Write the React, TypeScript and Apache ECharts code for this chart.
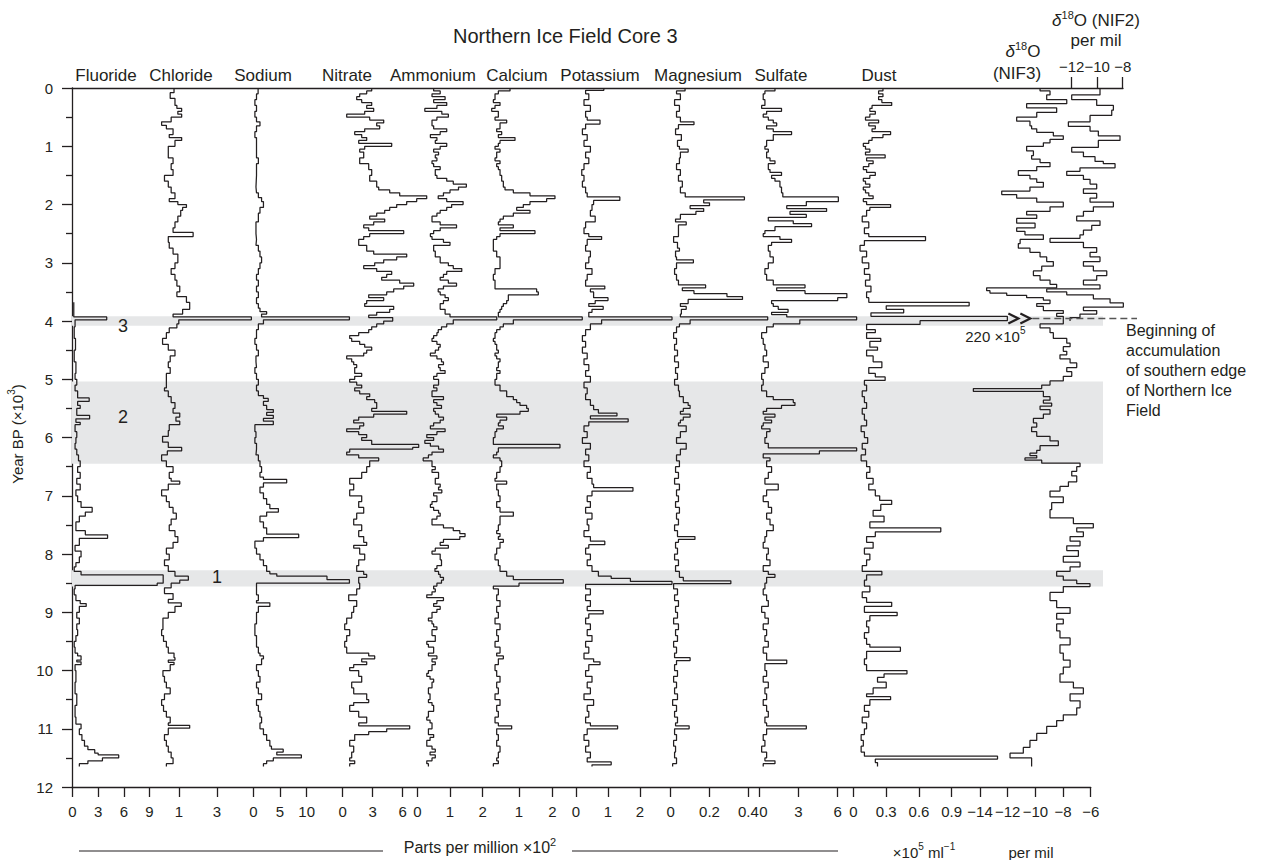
import { useEffect, useRef } from 'react';
import * as echarts from 'echarts';

// ---------------- DATA ----------------
// Each profile: [age (×10³ yr BP), value]; the value holds from that age to the next one.
type Pt = [number, number];

const fluoride: Pt[] = [[3.68,0.15],[3.93,4.0],[3.98,0.3],[4.1,0.2],[4.3,0.35],[4.5,0.2],[4.7,0.4],[4.9,0.3],[5.0,0.5],[5.1,0.3],[5.2,0.6],[5.32,1.95],[5.38,0.6],[5.45,0.9],[5.5,0.5],[5.62,2.0],[5.68,0.4],[5.74,0.9],[5.78,0.3],[5.9,0.5],[6.0,0.4],[6.1,0.3],[6.2,0.5],[6.3,0.7],[6.4,0.9],[6.5,0.6],[6.6,0.9],[6.7,0.5],[6.8,0.9],[6.9,0.4],[7.0,0.6],[7.1,1.0],[7.2,2.3],[7.28,1.5],[7.35,0.8],[7.45,0.4],[7.6,1.5],[7.67,4.1],[7.73,0.8],[7.85,0.3],[7.95,1.0],[8.05,0.8],[8.15,0.4],[8.22,0.2],[8.3,1.0],[8.36,10.6],[8.5,9.9],[8.54,0.3],[8.6,0.2],[8.7,0.4],[8.8,0.9],[8.85,1.6],[8.9,0.8],[9.0,0.5],[9.1,0.8],[9.2,0.5],[9.3,0.6],[9.4,0.4],[9.5,0.2],[9.6,0.3],[9.7,0.6],[9.75,1.0],[9.82,0.5],[9.85,1.0],[9.9,0.3],[10.0,0.4],[10.2,0.3],[10.4,0.5],[10.6,0.3],[10.8,0.4],[10.92,1.0],[11.0,0.8],[11.1,1.1],[11.2,1.4],[11.3,1.8],[11.36,2.6],[11.42,3.0],[11.45,5.4],[11.5,3.5],[11.55,1.8],[11.6,0.8],[11.65,0.8]];

const chloride: Pt[] = [[0,0.75],[0.08,0.55],[0.18,0.8],[0.3,0.9],[0.35,1.15],[0.4,0.95],[0.45,1.15],[0.5,0.6],[0.58,0.1],[0.64,0.35],[0.7,0.7],[0.8,0.5],[0.85,1.15],[0.9,0.8],[1.0,0.45],[1.1,0.45],[1.2,0.7],[1.3,0.6],[1.4,0.7],[1.5,0.25],[1.6,0.45],[1.7,0.6],[1.8,0.8],[1.9,0.5],[1.95,0.95],[2.0,1.4],[2.05,1.2],[2.1,1.1],[2.2,0.95],[2.3,0.8],[2.4,0.7],[2.48,1.75],[2.55,0.45],[2.65,0.5],[2.75,0.7],[2.85,0.95],[3.0,0.8],[3.1,0.6],[3.2,0.8],[3.3,0.9],[3.4,1.05],[3.5,0.9],[3.58,1.4],[3.68,1.57],[3.8,1.2],[3.88,0.7],[3.93,4.8],[3.98,1.0],[4.05,0.9],[4.12,0.5],[4.2,0.35],[4.3,0.15],[4.4,0.45],[4.5,0.8],[4.6,0.55],[4.7,0.45],[4.8,0.55],[4.9,0.35],[5.05,0.35],[5.15,0.25],[5.2,0.45],[5.3,0.6],[5.4,0.8],[5.5,0.7],[5.58,1.05],[5.65,0.85],[5.72,1.05],[5.78,0.5],[5.88,0.45],[5.98,0.15],[6.08,0.45],[6.17,1.15],[6.23,0.4],[6.3,0.1],[6.4,0.35],[6.5,0.7],[6.6,0.5],[6.7,0.6],[6.75,1.05],[6.8,0.45],[6.9,0.1],[7.0,0.35],[7.1,0.5],[7.2,0.7],[7.3,0.87],[7.4,0.6],[7.5,0.5],[7.6,0.8],[7.7,0.95],[7.8,0.7],[7.9,0.35],[8.0,0.5],[8.1,0.25],[8.2,0.45],[8.3,0.8],[8.38,1.5],[8.45,1.05],[8.5,0.6],[8.58,0.25],[8.68,0.7],[8.78,0.45],[8.84,1.13],[8.9,0.8],[9.0,0.45],[9.1,0.17],[9.3,0.1],[9.4,0.2],[9.5,0.35],[9.6,0.45],[9.7,0.75],[9.78,0.8],[9.82,0.45],[9.86,0.75],[9.9,0.55],[10.0,0.17],[10.1,0.25],[10.2,0.35],[10.3,0.55],[10.4,0.25],[10.5,0.1],[10.6,0.2],[10.7,0.35],[10.8,0.55],[10.9,0.45],[10.94,1.57],[10.99,0.45],[11.1,0.25],[11.2,0.35],[11.3,0.45],[11.4,0.6],[11.5,0.7],[11.6,0.35],[11.65,0.35]];

const sodium: Pt[] = [[0,0.9],[0.1,0.6],[0.2,0.3],[0.3,0.6],[0.4,0.3],[0.5,0.6],[0.58,1.25],[0.65,0.6],[0.75,0.3],[0.85,0.6],[1.0,0.6],[1.2,0.95],[1.3,0.6],[1.5,0.5],[1.7,0.6],[1.8,0.95],[1.88,1.55],[1.95,1.9],[2.05,1.25],[2.15,0.95],[2.3,0.5],[2.5,0.6],[2.6,0.5],[2.7,0.95],[2.8,1.25],[2.9,1.55],[3.0,1.25],[3.1,0.95],[3.2,0.6],[3.3,0.95],[3.4,0.6],[3.5,0.95],[3.6,0.6],[3.7,0.95],[3.78,1.25],[3.84,2.5],[3.88,1.55],[3.93,18],[3.98,1.9],[4.05,0.95],[4.15,0.6],[4.3,0.3],[4.4,0.6],[4.5,0.95],[4.6,0.5],[4.7,0.6],[4.8,0.3],[4.9,0.6],[5.0,0.95],[5.1,0.6],[5.2,0.95],[5.28,1.9],[5.33,2.8],[5.38,1.9],[5.45,2.5],[5.52,3.75],[5.57,2.5],[5.62,3.75],[5.67,1.9],[5.72,3.75],[5.78,0.3],[5.9,0.5],[6.0,0.3],[6.1,0.6],[6.2,0.5],[6.3,0.95],[6.4,1.25],[6.5,1.55],[6.6,1.25],[6.68,1.9],[6.72,6.25],[6.78,1.9],[6.85,1.25],[6.95,1.9],[7.05,2.5],[7.15,3.1],[7.22,4.7],[7.28,2.5],[7.35,1.25],[7.45,1.9],[7.55,2.5],[7.66,8.5],[7.72,1.9],[7.78,0.3],[7.9,0.6],[8.0,1.25],[8.1,1.9],[8.2,2.5],[8.3,3.1],[8.34,4.4],[8.38,13.8],[8.44,18],[8.5,0.6],[8.6,0.6],[8.7,0.95],[8.8,0.6],[8.84,3.1],[8.9,0.95],[9.0,0.6],[9.2,0.3],[9.4,0.6],[9.6,0.95],[9.7,1.25],[9.75,1.9],[9.8,1.55],[9.9,0.6],[10.0,0.95],[10.1,1.25],[10.2,0.6],[10.3,0.95],[10.4,1.55],[10.5,0.6],[10.6,0.95],[10.7,1.25],[10.8,1.55],[10.9,1.25],[11.0,1.9],[11.1,2.5],[11.2,3.1],[11.3,3.4],[11.35,5.6],[11.4,4.4],[11.45,9.0],[11.5,3.75],[11.55,2.5],[11.6,1.9],[11.65,1.9]];

const nitrate: Pt[] = [[0,2.9],[0.05,2.4],[0.1,1.7],[0.15,1.4],[0.2,1.9],[0.25,2.9],[0.3,2.4],[0.35,3.1],[0.4,2.2],[0.45,0.4],[0.5,2.7],[0.55,4.1],[0.6,3.4],[0.65,3.7],[0.7,2.2],[0.75,1.2],[0.8,1.9],[0.85,2.4],[0.9,1.6],[0.95,4.9],[1.0,2.2],[1.05,1.7],[1.1,2.1],[1.2,1.7],[1.3,2.6],[1.4,2.9],[1.5,2.7],[1.6,3.4],[1.7,3.6],[1.75,4.7],[1.8,5.7],[1.85,8.4],[1.9,7.4],[1.95,6.4],[2.0,5.4],[2.05,4.7],[2.1,4.2],[2.15,3.4],[2.2,2.7],[2.25,4.2],[2.3,3.1],[2.35,2.1],[2.4,2.6],[2.45,6.1],[2.5,2.7],[2.55,2.1],[2.6,1.6],[2.7,2.4],[2.8,3.1],[2.85,6.4],[2.9,5.4],[2.95,4.1],[3.0,3.2],[3.05,2.1],[3.1,3.4],[3.15,4.9],[3.2,4.4],[3.25,3.9],[3.3,5.7],[3.35,7.1],[3.4,6.1],[3.45,5.1],[3.5,4.4],[3.55,2.6],[3.6,4.1],[3.65,2.4],[3.7,2.2],[3.75,5.1],[3.8,4.7],[3.85,3.4],[3.9,2.6],[3.94,5.0],[4.0,4.1],[4.05,3.4],[4.1,2.9],[4.15,2.6],[4.2,1.6],[4.25,0.7],[4.3,0.9],[4.35,1.7],[4.4,2.2],[4.45,2.9],[4.5,2.4],[4.55,2.1],[4.6,0.4],[4.65,0.9],[4.7,1.1],[4.75,1.4],[4.8,1.2],[4.9,1.9],[4.95,1.2],[5.0,0.7],[5.05,1.4],[5.1,1.9],[5.15,1.2],[5.2,1.7],[5.25,2.7],[5.3,2.4],[5.35,3.2],[5.4,3.4],[5.5,2.9],[5.55,6.4],[5.6,3.1],[5.65,1.6],[5.7,1.1],[5.75,2.1],[5.8,1.7],[5.85,0.4],[5.9,1.6],[5.95,2.4],[6.0,1.9],[6.05,2.9],[6.12,7.6],[6.17,7.0],[6.2,0.7],[6.25,0.4],[6.3,1.6],[6.35,3.6],[6.4,2.7],[6.5,2.4],[6.6,1.9],[6.7,0.7],[6.8,1.1],[6.9,0.7],[7.0,1.9],[7.1,1.6],[7.2,2.1],[7.3,1.4],[7.4,1.1],[7.5,1.9],[7.6,1.6],[7.7,2.1],[7.8,2.4],[7.85,1.1],[7.9,1.7],[8.0,2.2],[8.1,1.6],[8.2,1.4],[8.3,2.1],[8.35,2.4],[8.4,1.6],[8.5,1.7],[8.6,1.4],[8.7,0.6],[8.8,1.4],[8.9,1.1],[9.0,0.9],[9.1,0.4],[9.2,0.2],[9.3,0.7],[9.4,0.4],[9.5,0.2],[9.6,0.4],[9.7,2.6],[9.75,3.2],[9.8,1.9],[9.85,2.4],[9.9,1.1],[9.95,0.7],[10.0,1.6],[10.1,1.9],[10.2,0.9],[10.3,1.1],[10.4,2.4],[10.5,2.6],[10.55,1.1],[10.6,0.7],[10.7,1.6],[10.8,2.4],[10.9,1.6],[10.95,6.7],[11.0,4.4],[11.05,2.6],[11.1,1.2],[11.2,0.7],[11.3,1.1],[11.4,0.9],[11.5,0.7],[11.55,1.2],[11.6,0.7],[11.65,0.7]];

const ammonium: Pt[] = [[0,0.5],[0.05,0.7],[0.1,0.45],[0.15,0.85],[0.2,0.5],[0.25,0.9],[0.3,0.6],[0.35,0.23],[0.4,0.75],[0.45,0.95],[0.5,0.6],[0.55,0.45],[0.65,0.5],[0.7,0.9],[0.75,0.7],[0.8,0.4],[0.85,0.6],[0.9,0.55],[0.95,0.9],[1.0,0.7],[1.05,0.5],[1.1,0.65],[1.15,0.55],[1.2,0.6],[1.25,0.45],[1.3,0.5],[1.35,0.7],[1.4,0.55],[1.5,0.6],[1.55,0.9],[1.6,1.1],[1.65,1.5],[1.7,1.26],[1.75,1.0],[1.8,0.8],[1.85,0.64],[1.9,0.9],[1.95,1.4],[2.0,1.05],[2.05,0.9],[2.1,0.7],[2.15,0.6],[2.2,0.45],[2.3,0.7],[2.35,1.2],[2.4,0.7],[2.45,0.5],[2.5,0.4],[2.55,0.45],[2.6,0.8],[2.65,1.0],[2.7,0.5],[2.8,0.55],[2.9,0.7],[3.0,0.95],[3.05,1.1],[3.1,1.36],[3.15,0.9],[3.2,0.8],[3.25,0.7],[3.3,0.95],[3.35,1.2],[3.4,0.8],[3.45,0.64],[3.5,0.7],[3.55,0.85],[3.6,0.95],[3.65,0.8],[3.7,0.7],[3.8,0.85],[3.88,1.0],[3.93,2.43],[3.98,1.1],[4.05,0.9],[4.1,0.74],[4.15,0.64],[4.2,0.6],[4.25,0.5],[4.3,0.45],[4.35,0.6],[4.4,0.7],[4.45,0.65],[4.5,0.55],[4.55,0.4],[4.6,0.6],[4.65,0.74],[4.7,0.8],[4.75,0.65],[4.8,0.7],[4.85,0.85],[4.9,0.6],[4.95,0.5],[5.0,0.65],[5.1,0.5],[5.15,0.6],[5.2,0.45],[5.3,0.8],[5.35,0.5],[5.4,0.6],[5.45,0.74],[5.5,0.5],[5.55,0.55],[5.6,0.65],[5.65,0.8],[5.7,0.7],[5.75,0.5],[5.8,0.4],[5.85,0.85],[5.9,0.6],[5.95,0.29],[6.0,0.5],[6.05,0.23],[6.1,0.4],[6.15,0.65],[6.2,0.8],[6.25,0.45],[6.3,0.34],[6.35,0.18],[6.4,0.45],[6.5,0.55],[6.55,0.45],[6.6,0.65],[6.7,0.55],[6.8,0.7],[6.85,0.65],[6.9,0.75],[6.95,0.5],[7.0,0.6],[7.1,0.45],[7.15,0.4],[7.2,0.5],[7.25,0.65],[7.3,0.7],[7.35,0.6],[7.4,0.45],[7.5,0.8],[7.55,1.1],[7.6,1.3],[7.65,1.46],[7.7,1.3],[7.75,0.8],[7.8,0.7],[7.85,0.95],[7.9,0.55],[7.95,0.45],[8.0,0.7],[8.1,0.74],[8.2,0.6],[8.25,0.54],[8.3,0.65],[8.35,0.7],[8.4,0.8],[8.45,0.74],[8.5,0.6],[8.55,0.5],[8.6,0.55],[8.65,0.45],[8.7,0.29],[8.75,0.8],[8.8,0.6],[8.85,0.5],[8.9,0.7],[8.95,0.6],[9.0,0.45],[9.1,0.34],[9.15,0.45],[9.2,0.5],[9.25,0.6],[9.3,0.45],[9.4,0.55],[9.5,0.29],[9.55,0.34],[9.6,0.5],[9.7,0.34],[9.75,0.6],[9.8,0.45],[9.85,0.55],[9.9,0.45],[10.0,0.34],[10.05,0.29],[10.1,0.39],[10.15,0.5],[10.2,0.45],[10.3,0.34],[10.4,0.39],[10.5,0.34],[10.55,0.45],[10.6,0.5],[10.7,0.34],[10.8,0.29],[10.85,0.39],[10.9,0.45],[11.0,0.34],[11.1,0.5],[11.15,0.39],[11.2,0.29],[11.3,0.45],[11.35,0.55],[11.4,0.39],[11.45,0.55],[11.5,0.45],[11.55,0.29],[11.6,0.34],[11.65,0.34]];

const calcium: Pt[] = [[0,0.73],[0.05,0.38],[0.1,0.28],[0.2,0.23],[0.25,0.43],[0.3,0.28],[0.35,0.18],[0.4,0.38],[0.5,0.28],[0.55,0.63],[0.6,0.43],[0.7,0.33],[0.75,0.48],[0.8,0.38],[0.85,0.88],[0.9,0.43],[0.95,0.38],[1.0,0.28],[1.05,0.43],[1.1,0.33],[1.2,0.28],[1.25,0.43],[1.3,0.33],[1.35,0.38],[1.4,0.43],[1.5,0.48],[1.6,0.53],[1.7,0.58],[1.75,0.83],[1.8,1.33],[1.85,2.08],[1.9,1.83],[1.95,1.33],[2.0,1.13],[2.05,0.93],[2.1,1.33],[2.15,0.83],[2.2,0.53],[2.25,0.43],[2.3,0.38],[2.35,0.83],[2.4,0.43],[2.45,1.48],[2.5,0.43],[2.55,0.33],[2.6,0.23],[2.8,0.33],[2.9,0.43],[3.1,0.28],[3.2,0.23],[3.3,0.28],[3.45,1.53],[3.5,1.58],[3.55,0.68],[3.65,0.63],[3.7,0.53],[3.75,0.48],[3.8,0.43],[3.85,0.38],[3.93,2.9],[3.98,0.83],[4.05,0.53],[4.1,0.43],[4.15,0.33],[4.2,0.28],[4.3,0.23],[4.35,0.28],[4.4,0.33],[4.5,0.38],[4.55,0.28],[4.6,0.33],[4.65,0.43],[4.7,0.38],[4.8,0.33],[4.85,0.43],[4.9,0.33],[5.0,0.28],[5.1,0.43],[5.2,0.63],[5.3,0.83],[5.35,0.93],[5.4,1.03],[5.45,1.23],[5.5,1.28],[5.55,1.03],[5.6,0.33],[5.65,0.63],[5.7,0.43],[5.75,0.38],[5.8,0.53],[5.85,0.33],[5.9,0.28],[6.0,0.23],[6.12,2.23],[6.18,0.38],[6.25,0.33],[6.3,0.23],[6.35,0.43],[6.4,0.48],[6.5,0.43],[6.6,0.33],[6.7,0.28],[6.75,0.63],[6.8,0.33],[6.9,0.38],[7.0,0.43],[7.1,0.33],[7.2,0.43],[7.28,0.83],[7.35,0.43],[7.5,0.38],[7.6,0.33],[7.65,0.43],[7.7,0.38],[7.75,0.53],[7.8,0.43],[7.9,0.33],[8.0,0.28],[8.1,0.38],[8.2,0.43],[8.3,0.63],[8.38,0.83],[8.44,2.33],[8.5,1.0],[8.55,0.23],[8.6,0.38],[8.7,0.33],[8.8,0.43],[8.9,0.33],[9.0,0.38],[9.1,0.28],[9.2,0.43],[9.3,0.33],[9.4,0.38],[9.5,0.28],[9.6,0.43],[9.7,0.33],[9.75,0.53],[9.8,0.38],[9.9,0.28],[10.0,0.33],[10.1,0.43],[10.2,0.33],[10.3,0.38],[10.4,0.28],[10.5,0.43],[10.6,0.33],[10.7,0.38],[10.8,0.28],[10.9,0.38],[10.95,0.78],[11.0,0.33],[11.1,0.38],[11.2,0.33],[11.3,0.43],[11.4,0.38],[11.5,0.33],[11.55,0.38],[11.6,0.23],[11.65,0.23]];

const potassium: Pt[] = [[0,0.87],[0.04,0.3],[0.1,0.4],[0.2,0.25],[0.3,0.45],[0.4,0.3],[0.5,0.35],[0.55,0.75],[0.62,0.3],[0.7,0.2],[0.8,0.35],[0.9,0.25],[1.0,0.45],[1.1,0.3],[1.2,0.4],[1.3,0.25],[1.4,0.18],[1.5,0.25],[1.6,0.2],[1.7,0.3],[1.8,0.35],[1.87,1.37],[1.93,0.55],[2.0,0.5],[2.1,0.45],[2.2,0.6],[2.3,0.3],[2.4,0.25],[2.5,0.4],[2.55,0.8],[2.6,0.35],[2.7,0.3],[2.8,0.45],[2.9,0.4],[3.0,0.3],[3.1,0.5],[3.2,0.35],[3.3,0.3],[3.4,0.9],[3.45,0.45],[3.5,0.55],[3.6,1.0],[3.65,0.6],[3.7,0.4],[3.75,0.85],[3.8,0.5],[3.85,0.4],[3.93,3.0],[3.98,0.8],[4.05,0.45],[4.15,0.3],[4.25,0.2],[4.35,0.3],[4.45,0.2],[4.55,0.35],[4.65,0.25],[4.75,0.4],[4.85,0.3],[4.95,0.45],[5.05,0.25],[5.15,0.35],[5.25,0.3],[5.35,0.45],[5.45,0.55],[5.52,0.7],[5.58,1.28],[5.63,0.45],[5.68,1.63],[5.73,0.4],[5.8,0.25],[5.9,0.35],[6.0,0.2],[6.1,0.45],[6.2,0.3],[6.3,0.4],[6.4,0.25],[6.5,0.45],[6.6,0.35],[6.7,0.5],[6.8,0.55],[6.86,1.78],[6.92,0.5],[7.0,0.35],[7.1,0.45],[7.2,0.3],[7.3,0.5],[7.4,0.35],[7.5,0.4],[7.6,0.25],[7.7,0.45],[7.78,0.9],[7.84,0.4],[7.9,0.3],[8.0,0.45],[8.1,0.35],[8.2,0.5],[8.3,0.7],[8.38,1.1],[8.42,1.7],[8.47,3.0],[8.52,0.3],[8.6,0.45],[8.7,0.3],[8.8,0.45],[8.9,0.35],[8.97,0.85],[9.03,0.4],[9.1,0.3],[9.2,0.45],[9.3,0.35],[9.4,0.5],[9.5,0.3],[9.6,0.4],[9.7,0.25],[9.8,0.55],[9.85,0.75],[9.9,0.4],[10.0,0.3],[10.1,0.5],[10.2,0.35],[10.3,0.45],[10.4,0.25],[10.5,0.55],[10.6,0.35],[10.7,0.4],[10.8,0.3],[10.9,0.45],[10.95,1.3],[11.0,0.35],[11.1,0.25],[11.2,0.4],[11.3,0.3],[11.4,0.45],[11.5,0.35],[11.57,1.1],[11.62,0.5],[11.65,0.5]];

const magnesium: Pt[] = [[0,0.074],[0.05,0.03],[0.1,0.05],[0.2,0.02],[0.3,0.045],[0.4,0.03],[0.5,0.05],[0.58,0.12],[0.63,0.04],[0.7,0.025],[0.8,0.055],[0.9,0.035],[1.0,0.045],[1.05,0.09],[1.1,0.05],[1.2,0.045],[1.3,0.03],[1.4,0.05],[1.5,0.04],[1.6,0.06],[1.7,0.05],[1.8,0.075],[1.87,0.38],[1.92,0.17],[1.97,0.2],[2.02,0.1],[2.07,0.17],[2.12,0.13],[2.17,0.05],[2.25,0.025],[2.3,0.08],[2.35,0.04],[2.45,0.04],[2.55,0.015],[2.65,0.035],[2.75,0.045],[2.8,0.025],[2.9,0.03],[2.95,0.117],[3.0,0.03],[3.1,0.02],[3.2,0.03],[3.3,0.04],[3.38,0.18],[3.43,0.06],[3.48,0.12],[3.53,0.29],[3.58,0.37],[3.63,0.09],[3.7,0.05],[3.75,0.08],[3.8,0.055],[3.88,0.05],[3.93,0.5],[3.98,0.1],[4.05,0.045],[4.1,0.03],[4.2,0.015],[4.3,0.03],[4.4,0.02],[4.5,0.035],[4.6,0.02],[4.7,0.04],[4.8,0.025],[4.9,0.035],[5.0,0.02],[5.1,0.04],[5.2,0.045],[5.3,0.065],[5.4,0.09],[5.45,0.1],[5.5,0.065],[5.55,0.05],[5.6,0.1],[5.65,0.065],[5.7,0.05],[5.75,0.04],[5.8,0.08],[5.9,0.05],[6.0,0.03],[6.1,0.08],[6.2,0.05],[6.3,0.03],[6.4,0.045],[6.5,0.025],[6.6,0.04],[6.7,0.02],[6.8,0.045],[6.9,0.03],[7.0,0.04],[7.1,0.025],[7.2,0.045],[7.3,0.03],[7.4,0.04],[7.5,0.02],[7.6,0.035],[7.7,0.125],[7.75,0.04],[7.8,0.025],[7.9,0.035],[8.0,0.02],[8.1,0.04],[8.2,0.025],[8.3,0.045],[8.4,0.065],[8.46,0.31],[8.51,0.015],[8.6,0.035],[8.7,0.02],[8.8,0.04],[8.9,0.025],[9.0,0.035],[9.1,0.015],[9.2,0.04],[9.3,0.025],[9.4,0.035],[9.5,0.015],[9.6,0.03],[9.7,0.02],[9.78,0.1],[9.83,0.03],[9.9,0.02],[10.0,0.035],[10.1,0.015],[10.2,0.03],[10.3,0.02],[10.4,0.035],[10.5,0.01],[10.6,0.03],[10.7,0.02],[10.8,0.035],[10.9,0.025],[10.95,0.095],[11.0,0.02],[11.1,0.03],[11.2,0.015],[11.3,0.025],[11.4,0.02],[11.5,0.03],[11.6,0.01],[11.65,0.01]];

const sulfate: Pt[] = [[0,1.2],[0.05,0.43],[0.1,0.3],[0.2,0.43],[0.3,0.18],[0.35,1.7],[0.4,0.56],[0.45,0.3],[0.5,0.69],[0.55,1.07],[0.6,1.33],[0.65,0.56],[0.7,1.07],[0.75,2.47],[0.8,1.07],[0.9,0.56],[1.0,0.43],[1.05,0.69],[1.1,0.56],[1.2,0.82],[1.25,1.2],[1.3,0.69],[1.4,0.82],[1.45,1.7],[1.5,0.94],[1.55,1.2],[1.6,1.58],[1.7,1.7],[1.8,1.8],[1.87,6.05],[1.95,3.6],[2.02,2.1],[2.07,5.15],[2.12,2.35],[2.17,3.6],[2.22,0.69],[2.28,2.6],[2.33,4.0],[2.38,1.2],[2.45,0.43],[2.5,0.3],[2.55,1.58],[2.6,2.47],[2.65,0.94],[2.7,0.69],[2.8,0.82],[2.9,1.07],[3.0,0.69],[3.1,0.43],[3.2,0.56],[3.3,1.07],[3.38,3.5],[3.43,1.33],[3.48,3.5],[3.53,6.7],[3.6,6.0],[3.65,0.94],[3.7,1.07],[3.75,1.45],[3.8,2.2],[3.85,0.94],[3.89,2.1],[3.93,7.45],[3.98,3.1],[4.05,1.07],[4.1,0.56],[4.2,0.18],[4.3,0.3],[4.4,0.43],[4.5,0.56],[4.6,0.3],[4.7,0.69],[4.8,0.43],[4.9,0.18],[5.0,0.3],[5.1,0.18],[5.2,0.56],[5.3,1.07],[5.35,2.6],[5.4,2.73],[5.45,1.7],[5.5,0.56],[5.55,0.3],[5.6,1.2],[5.65,0.43],[5.7,0.94],[5.75,0.3],[5.8,0.18],[5.85,0.82],[5.9,0.56],[6.0,0.43],[6.1,0.69],[6.18,7.45],[6.23,4.6],[6.28,0.3],[6.35,0.82],[6.4,0.56],[6.5,0.94],[6.6,0.69],[6.7,0.43],[6.8,1.45],[6.9,0.56],[7.0,0.3],[7.1,0.69],[7.2,0.94],[7.3,0.56],[7.4,0.82],[7.5,1.07],[7.6,0.56],[7.7,0.43],[7.8,0.3],[7.9,0.69],[8.0,0.56],[8.1,0.82],[8.2,0.3],[8.3,0.69],[8.35,1.2],[8.4,0.56],[8.5,0.43],[8.6,0.3],[8.7,0.56],[8.8,0.69],[8.9,0.18],[9.0,0.43],[9.1,0.69],[9.2,0.3],[9.3,0.56],[9.4,0.43],[9.5,0.69],[9.6,0.3],[9.7,0.56],[9.82,2.1],[9.88,0.43],[10.0,0.56],[10.1,0.3],[10.2,0.69],[10.3,0.43],[10.4,0.56],[10.5,0.3],[10.6,0.56],[10.7,0.69],[10.8,0.43],[10.9,0.56],[10.95,3.6],[11.0,0.56],[11.1,0.3],[11.2,0.43],[11.3,0.18],[11.4,0.56],[11.5,0.43],[11.55,1.2],[11.6,0.3],[11.65,0.3]];

// Dust (×10⁵ ml⁻¹). The 3.92 kyr peak (220 ×10⁵) is off the scale and is drawn cut at DUST_DRAW_LIMIT.
const dust: Pt[] = [[0,0.27],[0.05,0.23],[0.1,0.27],[0.15,0.23],[0.2,0.26],[0.25,0.35],[0.3,0.17],[0.35,0.15],[0.4,0.2],[0.45,0.15],[0.5,0.11],[0.55,0.23],[0.6,0.14],[0.65,0.2],[0.7,0.17],[0.75,0.34],[0.8,0.27],[0.85,0.17],[0.9,0.14],[0.95,0.09],[1.0,0.11],[1.05,0.15],[1.1,0.11],[1.15,0.29],[1.2,0.12],[1.25,0.18],[1.3,0.14],[1.35,0.09],[1.4,0.12],[1.45,0.2],[1.5,0.15],[1.55,0.09],[1.6,0.11],[1.65,0.15],[1.7,0.09],[1.75,0.11],[1.8,0.14],[1.85,0.18],[1.9,0.09],[1.95,0.12],[2.0,0.34],[2.05,0.15],[2.1,0.12],[2.2,0.08],[2.3,0.14],[2.4,0.1],[2.5,0.14],[2.55,0.66],[2.62,0.1],[2.7,0.06],[2.8,0.12],[2.9,0.08],[3.0,0.14],[3.1,0.1],[3.2,0.15],[3.3,0.11],[3.4,0.16],[3.5,0.12],[3.6,0.14],[3.68,1.06],[3.74,0.3],[3.8,0.46],[3.86,0.16],[3.92,220],[3.995,0.61],[4.06,0.12],[4.15,0.2],[4.2,0.12],[4.3,0.25],[4.35,0.15],[4.45,0.22],[4.5,0.12],[4.6,0.18],[4.7,0.26],[4.8,0.14],[4.9,0.2],[4.96,0.29],[5.02,0.1],[5.1,0.12],[5.2,0.08],[5.3,0.1],[5.4,0.12],[5.5,0.08],[5.6,0.1],[5.7,0.12],[5.8,0.07],[5.9,0.1],[6.0,0.13],[6.1,0.08],[6.2,0.11],[6.3,0.07],[6.4,0.12],[6.5,0.15],[6.6,0.12],[6.7,0.18],[6.8,0.14],[6.9,0.2],[7.0,0.24],[7.08,0.35],[7.15,0.25],[7.25,0.18],[7.35,0.28],[7.45,0.15],[7.55,0.8],[7.62,0.2],[7.7,0.12],[7.8,0.18],[7.9,0.1],[8.0,0.15],[8.1,0.12],[8.2,0.08],[8.3,0.26],[8.36,0.12],[8.45,0.1],[8.55,0.15],[8.65,0.08],[8.75,0.12],[8.83,0.35],[8.9,0.1],[9.0,0.4],[9.06,0.15],[9.15,0.12],[9.25,0.14],[9.35,0.1],[9.45,0.12],[9.55,0.15],[9.6,0.43],[9.67,0.12],[9.8,0.1],[9.9,0.12],[10.0,0.49],[10.06,0.28],[10.12,0.22],[10.2,0.3],[10.3,0.18],[10.4,0.12],[10.45,0.34],[10.5,0.15],[10.6,0.1],[10.7,0.14],[10.8,0.08],[10.9,0.12],[11.0,0.1],[11.1,0.07],[11.2,0.09],[11.3,0.07],[11.4,0.1],[11.47,1.32],[11.52,0.2],[11.58,0.22],[11.65,0.22]];
const DUST_OFFSCALE_LABEL = '220 ×10{s|5}';
const DUST_DRAW_LIMIT = 1.41;

const d18oNIF3: Pt[] = [[0,-9.66],[0.05,-8.94],[0.12,-9.18],[0.2,-7.73],[0.27,-10.63],[0.34,-8.46],[0.42,-9.9],[0.5,-11.35],[0.57,-10.39],[0.65,-10.27],[0.7,-9.9],[0.76,-8.7],[0.82,-7.98],[0.88,-8.94],[0.94,-9.42],[1.0,-10.63],[1.08,-10.14],[1.16,-10.27],[1.22,-9.66],[1.28,-8.94],[1.35,-9.9],[1.42,-11.23],[1.5,-10.39],[1.56,-9.9],[1.62,-9.42],[1.7,-10.39],[1.77,-12.43],[1.83,-11.35],[1.89,-9.9],[1.96,-7.98],[2.04,-8.94],[2.12,-10.63],[2.18,-9.9],[2.24,-11.35],[2.32,-10.02],[2.4,-11.35],[2.46,-10.75],[2.52,-9.42],[2.6,-11.1],[2.67,-11.23],[2.75,-10.39],[2.82,-9.66],[2.9,-9.18],[2.98,-8.7],[3.06,-9.54],[3.14,-10.14],[3.22,-9.66],[3.3,-8.94],[3.37,-8.46],[3.43,-13.52],[3.48,-13.28],[3.52,-12.07],[3.56,-10.63],[3.6,-9.42],[3.64,-8.94],[3.7,-9.9],[3.75,-9.42],[3.82,-7.98],[3.87,-8.46],[3.92,-7.98],[4.0,-7.98],[4.05,-9.66],[4.12,-8.94],[4.2,-8.7],[4.3,-7.73],[4.38,-7.49],[4.44,-7.98],[4.52,-7.73],[4.58,-8.22],[4.65,-7.49],[4.72,-7.01],[4.8,-7.73],[4.87,-7.37],[4.95,-7.98],[5.03,-8.94],[5.1,-9.54],[5.16,-14.48],[5.21,-9.42],[5.3,-8.94],[5.36,-9.42],[5.41,-8.82],[5.46,-9.66],[5.52,-8.94],[5.6,-9.42],[5.67,-10.14],[5.75,-9.9],[5.82,-10.27],[5.9,-9.9],[5.98,-8.94],[6.06,-8.34],[6.14,-9.66],[6.22,-9.9],[6.27,-10.39],[6.31,-9.9],[6.35,-10.75],[6.39,-9.54],[6.44,-6.77],[6.5,-7.01],[6.58,-7.37],[6.66,-7.01],[6.76,-7.61],[6.84,-8.22],[6.92,-8.94],[7.02,-7.98],[7.12,-8.82],[7.24,-8.94],[7.38,-7.25],[7.48,-5.81],[7.55,-7.01],[7.62,-6.53],[7.7,-7.49],[7.78,-6.77],[7.86,-7.73],[7.94,-6.89],[8.04,-7.98],[8.14,-6.77],[8.22,-7.49],[8.3,-8.46],[8.38,-7.98],[8.45,-7.01],[8.51,-6.05],[8.56,-7.98],[8.66,-8.94],[8.8,-8.46],[8.92,-7.49],[9.02,-8.46],[9.12,-7.98],[9.2,-8.46],[9.32,-8.22],[9.44,-7.49],[9.56,-8.22],[9.7,-7.98],[9.82,-7.49],[9.94,-7.98],[10.06,-8.22],[10.2,-7.25],[10.3,-6.53],[10.4,-7.49],[10.52,-6.77],[10.64,-7.01],[10.76,-7.98],[10.86,-8.46],[10.96,-9.18],[11.08,-9.9],[11.2,-10.39],[11.32,-10.87],[11.42,-11.83],[11.5,-10.27],[11.58,-10.27],[11.65,-10.27]];

const d18oNIF2: Pt[] = [[0,-9.78],[0.12,-12.0],[0.2,-10.04],[0.3,-8.73],[0.38,-8.86],[0.47,-10.56],[0.58,-12.26],[0.66,-10.56],[0.74,-9.91],[0.82,-8.21],[0.9,-9.91],[1.02,-12.0],[1.1,-11.08],[1.18,-10.17],[1.26,-9.52],[1.3,-8.6],[1.37,-11.35],[1.43,-12.39],[1.5,-11.08],[1.57,-10.56],[1.65,-10.04],[1.73,-11.08],[1.81,-10.04],[1.89,-10.56],[1.96,-8.73],[2.04,-10.3],[2.12,-11.08],[2.2,-11.61],[2.28,-9.78],[2.36,-10.43],[2.44,-11.08],[2.52,-11.35],[2.58,-13.7],[2.65,-11.08],[2.74,-10.04],[2.82,-10.56],[2.9,-9.78],[2.98,-11.08],[3.06,-10.3],[3.14,-9.25],[3.22,-10.04],[3.3,-11.08],[3.38,-9.78],[3.45,-13.96],[3.5,-12.39],[3.55,-10.3],[3.62,-8.99],[3.69,-7.95],[3.76,-11.08],[3.82,-10.04],[3.88,-11.35],[3.94,-12.13],[4.0,-12.13]];

const COLUMN_NAMES = ['Fluoride','Chloride','Sodium','Nitrate','Ammonium','Calcium','Potassium','Magnesium','Sulfate','Dust','δ18O (NIF3)','δ18O (NIF2)'];
const COLUMN_DATA = [fluoride, chloride, sodium, nitrate, ammonium, calcium, potassium, magnesium, sulfate, dust, d18oNIF3, d18oNIF2];
const COLUMN_TICKS: number[][] = [[0,3,6,9],[1,3],[0,5,10],[0,3,6],[0,1,2],[1,2],[0,1,2],[0,0.2,0.4],[0,3,6],[0,0.3,0.6,0.9],[-14,-12,-10,-8,-6],[-12,-10,-8]];
const YEAR_MIN = 0, YEAR_MAX = 12;

// shaded event bands (×10³ yr BP)
const BAND_FROM = [3.92, 5.04, 8.28];
const BAND_TO = [4.08, 6.45, 8.56];
const BAND_NAMES = ['3', '2', '1'];
const BAND_LABEL_AGE = [4.08, 5.65, 8.4];

// ---------------- LAYOUT ----------------
const W = 1265, H = 860;
const AXIS_X = 72, PLOT_TOP = 88, PLOT_H = 699;
const TOP_RIGHT = 1123, BOTTOM_RIGHT = 1090.7, BAND_RIGHT = 1103;
// pixel x of the first and last tick of each column's scale
const COLUMN_PX = [[72.5,149.5],[178.8,217],[253.3,306.7],[342.7,402.7],[417.3,482.7],[519,552.3],[576,640],[670.7,748.3],[759.3,837.7],[853.5,951.7],[980,1090.7],[1071.7,1122.7]];
const COLUMN_LABEL_X = [106,181,263,347,433,517,600,698,781,879];
const BAND_LABEL_X = [123, 123, 217];
const FONT = '"Liberation Sans", Arial, Helvetica, sans-serif';
const INK = '#231f20';
const BAND_FILL = '#e6e7e8';
const NCOL = COLUMN_NAMES.length;
const COL_GRID0 = 3;
const DUST_COL = 9;

const fmt = (v: number) => String(+v.toFixed(2)).replace('-', '\u2212');
const shown = (i: number, v: number) => (i === DUST_COL ? Math.min(v, DUST_DRAW_LIMIT) : v);

function richFor(size: number) {
  return {
    i: { fontSize: size, fontFamily: FONT, fontStyle: 'italic', fill: INK },
    s: { fontSize: Math.round(size * 0.66), fontFamily: FONT, fill: INK, verticalAlign: 'top' },
  };
}

function txt(x: number, y: number, text: string, size = 17, align = 'center', vAlign = 'middle', lineHeight = 22): any {
  return {
    type: 'text', x, y, silent: true, z: 50,
    style: { text, fill: INK, fontSize: size, fontFamily: FONT, align, verticalAlign: vAlign, lineHeight, rich: richFor(size) },
  };
}

// axis extent of a column = its tick range widened to hold every drawn value (same px-per-unit scale)
function columnExtent(i: number) {
  const ticks = COLUMN_TICKS[i];
  const vals = COLUMN_DATA[i].map(([, v]) => shown(i, v));
  const lo = Math.min(ticks[0], ...vals);
  const hi = Math.max(ticks[ticks.length - 1], ...vals);
  const [x0, x1] = COLUMN_PX[i];
  const k = (x1 - x0) / (ticks[ticks.length - 1] - ticks[0]);
  return { lo, hi, left: x0 + (lo - ticks[0]) * k, width: (hi - lo) * k };
}

function buildOption(): any {
  const lineStyle = { color: INK, width: 1.3 };
  const ext = COLUMN_TICKS.map((_, i) => columnExtent(i));
  const grids: any[] = [
    { left: AXIS_X, top: PLOT_TOP, width: BAND_RIGHT - AXIS_X, height: PLOT_H },
    { left: AXIS_X, top: PLOT_TOP, width: TOP_RIGHT - AXIS_X, height: PLOT_H },
    { left: AXIS_X, top: PLOT_TOP, width: BOTTOM_RIGHT - AXIS_X, height: PLOT_H },
    ...ext.map((e) => ({ left: e.left, top: PLOT_TOP, width: e.width, height: PLOT_H })),
  ].map((g) => ({ ...g, containLabel: false, outerBoundsMode: 'none' }));

  const frameX = (gi: number, position: string, showLine: boolean) => ({
    gridIndex: gi, type: 'value', min: 0, max: 1, position,
    axisLine: { show: showLine, onZero: false, lineStyle },
    axisTick: { show: false }, axisLabel: { show: false }, splitLine: { show: false },
  });

  const xAxis: any[] = [
    frameX(0, 'bottom', false),
    frameX(1, 'top', true),
    frameX(2, 'bottom', true),
    ...COLUMN_TICKS.map((ticks, i) => {
      const top = i === NCOL - 1;
      return {
        gridIndex: COL_GRID0 + i, type: 'value',
        min: ext[i].lo, max: ext[i].hi,
        position: top ? 'top' : 'bottom',
        axisLine: { show: false, onZero: false },
        axisTick: { show: true, length: top ? 11 : 10, lineStyle, customValues: ticks },
        axisLabel: {
          show: true, customValues: ticks, fontSize: 15, fontFamily: FONT, color: INK,
          margin: top ? 14 : 17, formatter: (v: number) => fmt(v),
          showMinLabel: true, showMaxLabel: true, hideOverlap: false,
          alignMinLabel: i === 8 ? 'left' : undefined,
        },
        splitLine: { show: false },
      };
    }),
  ];

  const hiddenY = (gi: number) => ({ gridIndex: gi, type: 'value', min: YEAR_MIN, max: YEAR_MAX, inverse: true, show: false });
  const yAxis: any[] = [
    hiddenY(0),
    {
      gridIndex: 1, type: 'value', min: YEAR_MIN, max: YEAR_MAX, interval: 1, inverse: true, position: 'left',
      axisLine: { show: true, onZero: false, lineStyle },
      axisTick: { show: true, length: 10, lineStyle },
      minorTick: { show: true, splitNumber: 2, length: 6, lineStyle },
      axisLabel: { fontSize: 15, fontFamily: FONT, color: INK, margin: 19 },
      splitLine: { show: false }, minorSplitLine: { show: false },
    },
    hiddenY(2),
    ...COLUMN_TICKS.map((_, i) => hiddenY(COL_GRID0 + i)),
  ];

  const series: any[] = [
    {
      type: 'line', xAxisIndex: 0, yAxisIndex: 0, data: [], silent: true, z: 1,
      markArea: {
        silent: true, itemStyle: { color: BAND_FILL },
        data: BAND_FROM.map((f, i) => [{ yAxis: f }, { yAxis: BAND_TO[i] }]),
      },
    },
    ...COLUMN_DATA.map((d, i) => ({
      type: 'line', name: COLUMN_NAMES[i], xAxisIndex: COL_GRID0 + i, yAxisIndex: COL_GRID0 + i,
      data: d.map(([age, v]) => [shown(i, v), age]),
      step: 'start', symbol: 'none', showSymbol: false, clip: false, silent: true, z: 3,
      lineStyle: { color: INK, width: 1.25 },
    })),
  ];

  return {
    animation: false,
    backgroundColor: '#ffffff',
    title: {
      text: 'Northern Ice Field Core 3', left: 453, top: 26, padding: 0,
      textStyle: { fontSize: 20, fontWeight: 'normal', color: INK, fontFamily: FONT },
    },
    grid: grids, xAxis, yAxis, series,
  };
}

function buildGraphic(chart: any): any[] {
  const g: any[] = [];
  const toPx = (gi: number, v: number, age: number) => chart.convertToPixel({ gridIndex: gi }, [v, age]) as number[];

  // column headings
  for (let i = 0; i < 10; i++) g.push(txt(COLUMN_LABEL_X[i], 75, COLUMN_NAMES[i]));
  g.push(txt(1023, 51, '{i|δ}{s|18}O'));
  g.push(txt(1017, 73, '(NIF3)'));
  g.push(txt(1096, 20, '{i|δ}{s|18}O (NIF2)'));
  g.push(txt(1096, 40, 'per mil'));

  // y-axis title
  g.push({ ...txt(17, 434, 'Year BP (×10{s|3})', 15), rotation: Math.PI / 2 });

  // band numbers
  BAND_NAMES.forEach((n, i) => {
    const y = toPx(0, 0, BAND_LABEL_AGE[i])[1];
    g.push(txt(BAND_LABEL_X[i], y, n, 18));
  });

  // off-scale dust peak: chevrons, label and dashed marker line
  const idx = dust.findIndex(([, v]) => v > DUST_DRAW_LIMIT);
  const midAge = (dust[idx][0] + dust[idx + 1][0]) / 2;
  const tip = toPx(COL_GRID0 + DUST_COL, DUST_DRAW_LIMIT, midAge);
  for (let k = 0; k < 2; k++) {
    const x0 = tip[0] + 1 + k * 12;
    g.push({
      type: 'polyline', silent: true, z: 50,
      shape: { points: [[x0, tip[1] - 5], [x0 + 10, tip[1]], [x0, tip[1] + 5]] },
      style: { stroke: INK, lineWidth: 2.2, fill: 'none' },
    });
  }
  g.push(txt(tip[0] - 12, tip[1] + 18, DUST_OFFSCALE_LABEL, 15));
  g.push({
    type: 'line', silent: true, z: 50,
    shape: { x1: tip[0] + 25, y1: tip[1], x2: TOP_RIGHT + 14, y2: tip[1] },
    style: { stroke: '#555', lineWidth: 1.4, lineDash: [7, 4] },
  });
  g.push(txt(1126, tip[1] + 2, 'Beginning of\naccumulation\nof southern edge\nof Northern Ice\nField', 16, 'left', 'top', 20));

  // bottom unit captions
  g.push(txt(480, 847, 'Parts per million ×10{s|2}', 16));
  g.push({ type: 'line', silent: true, shape: { x1: 79, y1: 851, x2: 383, y2: 851 }, style: { stroke: INK, lineWidth: 1.2 } });
  g.push({ type: 'line', silent: true, shape: { x1: 572, y1: 851, x2: 838, y2: 851 }, style: { stroke: INK, lineWidth: 1.2 } });
  g.push(txt(924, 852, '×10{s|5} ml{s|\u22121}', 15));
  g.push(txt(1031, 852, 'per mil', 15));
  return g;
}

export default function App() {
  const ref = useRef<HTMLDivElement>(null);
  useEffect(() => {
    document.body.style.margin = '0';
    const chart = echarts.init(ref.current as HTMLDivElement, undefined, { renderer: 'svg' });
    chart.setOption(buildOption());
    chart.setOption({ graphic: buildGraphic(chart) });
    return () => chart.dispose();
  }, []);
  return <div ref={ref} style={{ width: W, height: H }} />;
}
